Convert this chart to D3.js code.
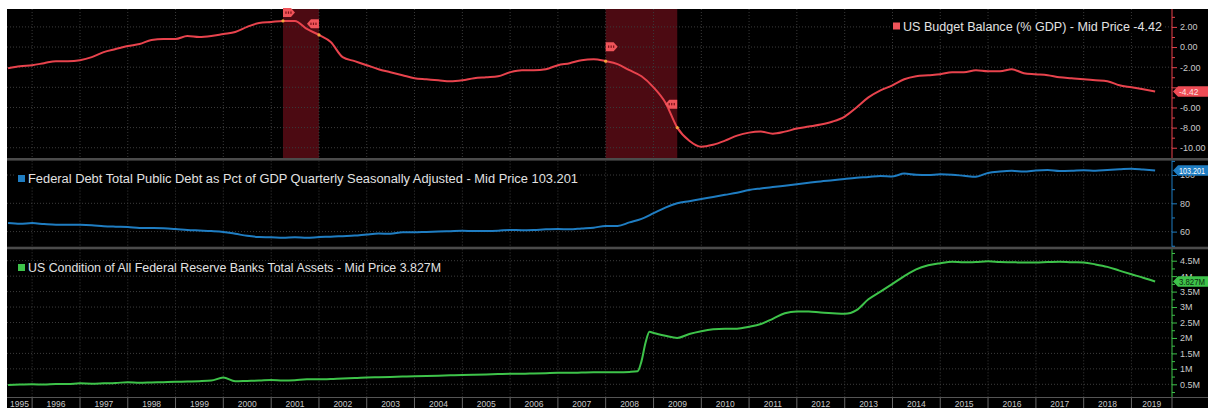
<!DOCTYPE html>
<html>
<head>
<meta charset="utf-8">
<script src="https://cdn.jsdelivr.net/npm/d3@7"></script>
<style>
body{margin:0;background:#fff;}
svg{display:block;font-family:"Liberation Sans",Arial,sans-serif;}
</style>
</head>
<body>
<svg id="chart" width="1208" height="408"></svg>
<script>
// ---- data (quarterly, 1995-07 .. 2019-07) ----
var firstQuarter = '1995-07', lastQuarter = '2019-07';

var budgetBalance = [
  -2.1, -1.9,
  -1.8, -1.6, -1.4, -1.4,
  -1.3, -1.0, -0.5, -0.2,
  0.1, 0.3, 0.7, 0.8,
  0.8, 1.1, 1.0, 1.1,
  1.3, 1.5, 2.0, 2.4,
  2.5, 2.6, 2.6, 1.8,
  1.2, 0.5, -1.0, -1.4,
  -1.8, -2.2, -2.5, -2.8,
  -3.1, -3.2, -3.3, -3.4,
  -3.3, -3.1, -3.0, -2.9,
  -2.5, -2.3, -2.3, -2.2,
  -1.8, -1.6, -1.3, -1.2,
  -1.4, -1.7, -2.3, -2.9,
  -4.0, -5.5, -8.0, -9.3,
  -9.9, -9.7, -9.3, -8.8,
  -8.5, -8.4, -8.6, -8.4,
  -8.1, -7.9, -7.7, -7.4,
  -6.9, -6.0, -5.0, -4.3,
  -3.8, -3.2, -2.9, -2.8,
  -2.7, -2.5, -2.5, -2.3,
  -2.4, -2.4, -2.2, -2.6,
  -2.7, -2.8, -3.0, -3.1,
  -3.2, -3.3, -3.4, -3.8,
  -4.0, -4.2, -4.42
];

var federalDebt = [
  66.0, 65.5,
  66.0, 65.3, 64.8, 64.8,
  64.8, 64.5, 63.8, 63.5,
  63.3, 62.6, 62.5, 62.3,
  61.8, 61.2, 60.8, 60.4,
  59.8, 58.5, 57.0, 56.2,
  56.0, 55.6, 56.0, 55.6,
  56.2, 56.4, 56.8, 57.2,
  58.0, 58.6, 58.5, 59.5,
  59.5, 59.8, 60.0, 60.3,
  60.6, 60.4, 60.4, 60.6,
  61.2, 61.0, 61.2, 61.6,
  61.8, 61.6, 62.2, 62.8,
  64.0, 64.0, 66.5, 69.0,
  73.0, 77.0, 80.0, 81.5,
  83.0, 84.5, 86.0, 87.5,
  89.4, 90.5, 91.5, 92.5,
  93.5, 94.5, 95.5, 96.3,
  97.2, 98.0, 98.6, 99.3,
  99.0, 101.0, 100.2, 100.0,
  100.5, 100.2, 99.5, 98.8,
  101.5, 102.5, 103.0, 102.5,
  103.2, 103.5, 102.8, 103.0,
  103.4, 103.0, 103.5, 104.0,
  104.5, 103.9, 103.201
];

var fedAssets = [
  0.48, 0.49,
  0.50, 0.49, 0.51, 0.51,
  0.53, 0.52, 0.53, 0.54,
  0.57, 0.55, 0.56, 0.57,
  0.58, 0.59, 0.60, 0.62,
  0.72, 0.60, 0.61, 0.62,
  0.64, 0.62, 0.63, 0.66,
  0.66, 0.67, 0.69, 0.70,
  0.72, 0.73, 0.74, 0.75,
  0.76, 0.77, 0.78, 0.79,
  0.80, 0.81, 0.82, 0.83,
  0.84, 0.84, 0.85, 0.86,
  0.87, 0.87, 0.88, 0.89,
  0.89, 0.89, 0.90, 1.25,
  2.16, 2.07, 2.00, 2.13,
  2.22, 2.28, 2.30, 2.30,
  2.36, 2.45, 2.62, 2.80,
  2.86, 2.86, 2.82, 2.80,
  2.78, 2.90, 3.25, 3.50,
  3.75, 4.00, 4.22, 4.35,
  4.42, 4.47, 4.45, 4.46,
  4.48, 4.46, 4.45, 4.44,
  4.44, 4.46, 4.47, 4.45,
  4.44, 4.38, 4.30, 4.18,
  4.06, 3.95, 3.827
];
// extra monthly points around the 2008 balance-sheet jump
var fedExtraDates = ['2008-09', '2008-11', '2008-12'];
var fedExtraValues = [0.92, 1.85, 2.2];

var recessionStarts = ['2001-04', '2008-01'];
var recessionEnds = ['2002-01', '2009-07'];
var recessionFlagStart = [3.42, 0.04];
var recessionFlagEnd = [2.31, -5.67];

var yearLabels = ['1995','1996','1997','1998','1999','2000','2001','2002','2003','2004','2005','2006',
  '2007','2008','2009','2010','2011','2012','2013','2014','2015','2016','2017','2018','2019'];

var budgetTicks = [2, 0, -2, -4, -6, -8, -10];
var budgetMinor = [3, 1, -1, -3, -5, -7, -9];
var debtTicks = [60, 80, 100];
var debtMinor = [50, 70, 90, 110];
var assetTicks = [0.5, 1, 1.5, 2, 2.5, 3, 3.5, 4, 4.5];
var assetMinor = [0.25, 0.75, 1.25, 1.75, 2.25, 2.75, 3.25, 3.75, 4.25, 4.75];

var legendBudget = 'US Budget Balance (% GDP) - Mid Price -4.42';
var legendDebt = 'Federal Debt Total Public Debt as Pct of GDP Quarterly Seasonally Adjusted - Mid Price 103.201';
var legendAssets = 'US Condition of All Federal Reserve Banks Total Assets - Mid Price 3.827M';

// ---- layout ----
var parseM = d3.timeParse('%Y-%m');
var quarters = d3.timeMonth.every(3).range(parseM(firstQuarter), d3.timeMonth.offset(parseM(lastQuarter), 1));

var RED = '#e8434d', BLUE = '#1f7dc2', GREEN = '#3ec34a';
var plotL = 7, plotR = 1172;
var panels = [
  {top: 9, bottom: 158},
  {top: 160.6, bottom: 246.7},
  {top: 249.3, bottom: 397}
];

var svg = d3.select('#chart');
svg.append('rect').attr('width', 1208).attr('height', 408).attr('fill', '#fff');
svg.append('rect').attr('x', plotL).attr('y', 9).attr('width', 1208 - plotL).attr('height', 399).attr('fill', '#000');

var x = d3.scaleTime()
  .domain([new Date(1995, 5, 23), new Date(2019, 10, 7)])
  .range([plotL, plotR]);

var yTop = d3.scaleLinear().domain([-11.02, 3.78]).range([panels[0].bottom, panels[0].top]);
var yMid = d3.scaleLinear().domain([49.33, 110.2]).range([panels[1].bottom, panels[1].top]);
var yBot = d3.scaleLinear().domain([0.089, 4.869]).range([panels[2].bottom, panels[2].top]);

// separators
svg.append('rect').attr('x', plotL).attr('y', 158).attr('width', 1208 - plotL).attr('height', 2.6).attr('fill', '#4b4b4b');
svg.append('rect').attr('x', plotL).attr('y', 246.7).attr('width', 1208 - plotL).attr('height', 2.6).attr('fill', '#4b4b4b');

// recession shading (top panel)
recessionStarts.forEach(function(s, i){
  var x0 = x(parseM(s)), x1 = x(parseM(recessionEnds[i]));
  svg.append('rect').attr('x', x0).attr('y', panels[0].top)
    .attr('width', x1 - x0).attr('height', panels[0].bottom - panels[0].top)
    .attr('fill', '#4c0a12');
});

// grids
var yearStarts = d3.timeYear.range(new Date(1996, 0, 1), new Date(2019, 1, 1));
panels.forEach(function(p){
  svg.append('g').selectAll('line').data(yearStarts).enter().append('line')
    .attr('x1', function(d){ return x(d); }).attr('x2', function(d){ return x(d); })
    .attr('y1', p.top).attr('y2', p.bottom)
    .attr('stroke', '#3a3a3a').attr('stroke-dasharray', '1,2');
});
function hgrid(scale, ticks){
  svg.append('g').selectAll('line').data(ticks).enter().append('line')
    .attr('x1', plotL).attr('x2', plotR)
    .attr('y1', function(d){ return scale(d); }).attr('y2', function(d){ return scale(d); })
    .attr('stroke', '#3c3c3c').attr('stroke-dasharray', '1,2');
}
hgrid(yTop, budgetTicks);
hgrid(yMid, debtTicks);
hgrid(yBot, assetTicks);

// clip
panels.forEach(function(p, i){
  svg.append('clipPath').attr('id', 'clip' + i).append('rect')
    .attr('x', plotL).attr('y', p.top).attr('width', plotR - plotL).attr('height', p.bottom - p.top);
});

function drawLine(dates, values, scale, color, clip){
  var pts = dates.map(function(d, i){ return [d, values[i]]; });
  svg.append('path').datum(pts)
    .attr('clip-path', 'url(#' + clip + ')')
    .attr('fill', 'none').attr('stroke', color).attr('stroke-width', 2)
    .attr('stroke-linejoin', 'round')
    .attr('d', d3.line().curve(d3.curveMonotoneX).x(function(d){ return x(d[0]); }).y(function(d){ return scale(d[1]); }));
  return pts;
}

var budgetPts = drawLine(quarters, budgetBalance, yTop, RED, 'clip0');
drawLine(quarters, federalDebt, yMid, BLUE, 'clip1');

var fedPairs = quarters.map(function(d, i){ return [d, fedAssets[i]]; })
  .concat(fedExtraDates.map(function(d, i){ return [parseM(d), fedExtraValues[i]]; }))
  .sort(function(a, b){ return a[0] - b[0]; });
drawLine(fedPairs.map(function(d){ return d[0]; }), fedPairs.map(function(d){ return d[1]; }), yBot, GREEN, 'clip2');

// recession flags and dots
function valueAt(date){
  var i = d3.bisector(function(d){ return d[0]; }).left(budgetPts, date);
  return budgetPts[Math.min(i, budgetPts.length - 1)][1];
}
function flag(xe, yc, dir){
  var w = 12, h = 9, t = 4;
  var d = dir > 0
    ? 'M' + xe + ',' + (yc - h/2) + ' h' + (w - t) + ' l' + t + ',' + (h/2) + ' l' + (-t) + ',' + (h/2) + ' h' + (t - w) + ' Z'
    : 'M' + xe + ',' + (yc - h/2) + ' h' + (t - w) + ' l' + (-t) + ',' + (h/2) + ' l' + t + ',' + (h/2) + ' h' + (w - t) + ' Z';
  svg.append('path').attr('d', d).attr('fill', '#f0545a');
  var cx = xe + dir * (w / 2 - 0.5);
  [-2.5, 0, 2.5].forEach(function(o){
    svg.append('rect').attr('x', cx + o - 0.6).attr('y', yc - 1.2).attr('width', 1.2).attr('height', 2.4).attr('fill', '#7a1016');
  });
}
recessionStarts.forEach(function(s, i){
  var ds = parseM(s), de = parseM(recessionEnds[i]);
  svg.append('circle').attr('cx', x(ds)).attr('cy', yTop(valueAt(ds))).attr('r', 1.6).attr('fill', '#f2a23a');
  svg.append('circle').attr('cx', x(de)).attr('cy', yTop(valueAt(de))).attr('r', 1.6).attr('fill', '#f2a23a');
  flag(x(ds), yTop(recessionFlagStart[i]), 1);
  flag(x(de), yTop(recessionFlagEnd[i]), -1);
});

// right axes; a label fully hidden under the last-value tag is left out
function drawAxis(p, scale, majors, minors, fmt, color, lastValue){
  svg.append('line').attr('x1', plotR).attr('x2', plotR).attr('y1', p.top).attr('y2', p.bottom)
    .attr('stroke', color).attr('stroke-width', 1);
  var gMin = svg.append('g').attr('transform', 'translate(' + plotR + ',0)')
    .call(d3.axisRight(scale).tickValues(minors).tickSize(3).tickSizeOuter(0).tickFormat(''));
  var gMaj = svg.append('g').attr('transform', 'translate(' + plotR + ',0)')
    .call(d3.axisRight(scale).tickValues(majors).tickSize(5).tickSizeOuter(0)
      .tickFormat(function(d){ return Math.abs(scale(d) - scale(lastValue)) < 4.3 ? '' : fmt(d); }));
  [gMin, gMaj].forEach(function(g){
    g.select('.domain').remove();
    g.selectAll('.tick line').attr('stroke', color);
    g.selectAll('.tick text').attr('fill', '#c9c9c9').attr('font-size', 9)
      .attr('font-family', '"Liberation Sans", Arial, sans-serif');
  });
}
var lastBudget = budgetBalance[budgetBalance.length - 1];
var lastDebt = federalDebt[federalDebt.length - 1];
var lastAssets = fedAssets[fedAssets.length - 1];
drawAxis(panels[0], yTop, budgetTicks, budgetMinor, function(d){ return d3.format('.2f')(d).replace('\u2212', '-'); }, RED, lastBudget);
drawAxis(panels[1], yMid, debtTicks, debtMinor, function(d){ return String(d); }, BLUE, lastDebt);
drawAxis(panels[2], yBot, assetTicks, assetMinor, function(d){ return d + 'M'; }, GREEN, lastAssets);

// value tags
function tag(yc, color, label, textColor){
  var x0 = plotR + 1, h = 10.5;
  svg.append('path')
    .attr('d', 'M' + x0 + ',' + yc + ' L' + (x0 + 5) + ',' + (yc - h/2) + ' H1208 V' + (yc + h/2) + ' H' + (x0 + 5) + ' Z')
    .attr('fill', color);
  var t = svg.append('text').attr('x', x0 + 6).attr('y', yc + 3.2).text(label)
    .attr('fill', textColor).attr('font-size', 8.5);
  var room = 1205 - (x0 + 6);
  if (t.node().getComputedTextLength() > room) {
    t.attr('textLength', room).attr('lengthAdjust', 'spacingAndGlyphs');
  }
}
tag(yTop(lastBudget), '#ee4c55', '-4.42', '#fbe0e0');
tag(yMid(lastDebt), BLUE, '103.201', '#ffffff');
tag(yBot(lastAssets), GREEN, '3.827M', '#0b2a0d');

// legends
function legend(xs, ybase, color, label, width){
  svg.append('rect').attr('x', xs - 2).attr('y', ybase - 11).attr('width', width + 14).attr('height', 14).attr('fill', '#000');
  svg.append('rect').attr('x', xs).attr('y', ybase - 8).attr('width', 7).attr('height', 7).attr('fill', color);
  svg.append('text').attr('x', xs + 10).attr('y', ybase).text(label)
    .attr('fill', '#e2e2e2').attr('font-size', 12)
    .attr('textLength', width).attr('lengthAdjust', 'spacingAndGlyphs');
}
legend(893, 30.5, '#f0545a', legendBudget, 259);
legend(18, 183, BLUE, legendDebt, 550);
legend(18, 272, GREEN, legendAssets, 413);

// bottom year band
svg.append('line').attr('x1', plotL).attr('x2', 1208).attr('y1', 397.5).attr('y2', 397.5).attr('stroke', '#555');
var bounds = [plotL].concat(yearStarts.map(function(d){ return x(d); })).concat([plotR]);
svg.append('g').selectAll('line').data(yearStarts).enter().append('line')
  .attr('x1', function(d){ return x(d); }).attr('x2', function(d){ return x(d); })
  .attr('y1', 398).attr('y2', 408).attr('stroke', '#6a6a6a');
svg.append('line').attr('x1', plotR).attr('x2', plotR).attr('y1', 398).attr('y2', 408).attr('stroke', '#6a6a6a');
svg.append('g').selectAll('text').data(yearLabels).enter().append('text')
  .attr('x', function(d, i){ return (bounds[i] + bounds[i + 1]) / 2; })
  .attr('y', 406.5).attr('text-anchor', 'middle')
  .attr('fill', '#c9c9c9').attr('font-size', 8.5)
  .text(function(d){ return d; });
</script>
</body>
</html>
